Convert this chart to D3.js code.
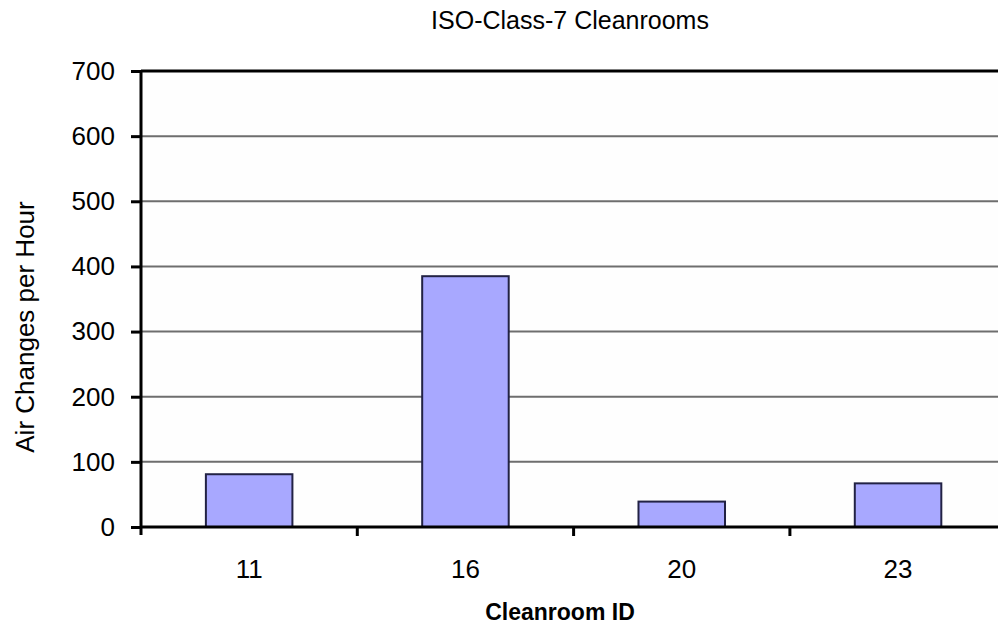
<!DOCTYPE html>
<html>
<head>
<meta charset="utf-8">
<script src="https://cdn.jsdelivr.net/npm/d3@7"></script>
<style>
  body { margin: 0; background: #fff; }
  svg { display: block; font-family: "Liberation Sans", Arial, sans-serif; }
</style>
</head>
<body>
<svg id="chart" width="998" height="626"></svg>
<script>
// values
var rooms = ["11", "16", "20", "23"];
var airChanges = [81, 385, 39, 67];
var yTicks = [0, 100, 200, 300, 400, 500, 600, 700];

var svg = d3.select("#chart");
var plotLeft = 141, plotTop = 71, plotBottom = 527, step = 216.3;
var plotRight = plotLeft + step * rooms.length;

var x = d3.scaleBand()
    .domain(rooms)
    .range([plotLeft, plotRight])
    .paddingInner(0.6)
    .paddingOuter(0.3);

var y = d3.scaleLinear().domain([0, 700]).range([plotBottom, plotTop]);

// plot background
svg.append("rect")
    .attr("x", plotLeft).attr("y", plotTop)
    .attr("width", plotRight - plotLeft).attr("height", plotBottom - plotTop)
    .attr("fill", "#fefefe");

// gridlines
svg.append("g").selectAll("line")
    .data(yTicks.filter(function(d) { return d > 0 && d < 700; }))
    .enter().append("line")
    .attr("x1", plotLeft).attr("x2", plotRight)
    .attr("y1", function(d) { return y(d); })
    .attr("y2", function(d) { return y(d); })
    .attr("stroke", "#6e6e6e")
    .attr("stroke-width", 2);

// bars
svg.append("g").selectAll("rect")
    .data(rooms)
    .enter().append("rect")
    .attr("x", function(d) { return x(d); })
    .attr("width", x.bandwidth())
    .attr("y", function(d, i) { return y(airChanges[i]); })
    .attr("height", function(d, i) { return plotBottom - y(airChanges[i]); })
    .attr("fill", "#a8a8ff")
    .attr("stroke", "#222244")
    .attr("stroke-width", 2);

// top border
svg.append("line")
    .attr("x1", plotLeft).attr("x2", plotRight)
    .attr("y1", plotTop).attr("y2", plotTop)
    .attr("stroke", "#000").attr("stroke-width", 3);

// y axis
var yAxis = svg.append("g")
    .attr("transform", "translate(" + plotLeft + ",0)")
    .call(d3.axisLeft(y).tickValues(yTicks).tickSize(10).tickPadding(16));
yAxis.select(".domain").attr("stroke-width", 3)
    .attr("d", "M0," + (plotTop - 1) + "V" + (plotBottom + 8));
yAxis.selectAll(".tick line").attr("stroke-width", 3);
yAxis.selectAll("text").attr("font-size", 26).attr("fill", "#000");

// x axis line + boundary ticks
var xAxis = svg.append("g")
    .attr("transform", "translate(0," + plotBottom + ")")
    .call(d3.axisBottom(x).tickSize(0).tickPadding(33));
xAxis.select(".domain").attr("stroke-width", 3)
    .attr("d", "M" + plotLeft + ",0H" + plotRight);
xAxis.selectAll("text").attr("font-size", 26).attr("fill", "#000");

xAxis.selectAll(".bound")
    .data(rooms)
    .enter().append("line")
    .attr("class", "bound")
    .attr("x1", function(d, i) { return plotLeft + step * (i + 1); })
    .attr("x2", function(d, i) { return plotLeft + step * (i + 1); })
    .attr("y1", 0).attr("y2", 9)
    .attr("stroke", "#000").attr("stroke-width", 3);

// title and axis labels
svg.append("text")
    .attr("x", 570).attr("y", 29)
    .attr("text-anchor", "middle")
    .attr("font-size", 25)
    .text("ISO-Class-7 Cleanrooms");

svg.append("text")
    .attr("x", 560).attr("y", 620)
    .attr("text-anchor", "middle")
    .attr("font-size", 23)
    .attr("font-weight", "bold")
    .text("Cleanroom ID");

svg.append("text")
    .attr("transform", "translate(34,327) rotate(-90)")
    .attr("text-anchor", "middle")
    .attr("font-size", 26)
    .text("Air Changes per Hour");
</script>
</body>
</html>
